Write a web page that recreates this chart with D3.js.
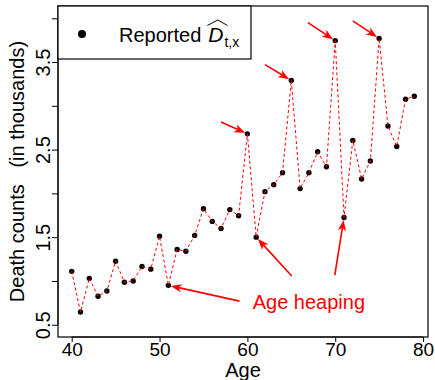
<!DOCTYPE html>
<html>
<head>
<meta charset="utf-8">
<script src="https://cdn.jsdelivr.net/npm/d3@7"></script>
<style>
  body { margin: 0; background: #fff; }
  svg { display: block; font-family: "Liberation Sans", Arial, sans-serif; }
</style>
</head>
<body>
<svg id="chart" width="435" height="380"></svg>
<script>
// reported death counts (thousands) by single year of age
const ages = [40, 41, 42, 43, 44, 45, 46, 47, 48, 49,
              50, 51, 52, 53, 54, 55, 56, 57, 58, 59,
              60, 61, 62, 63, 64, 65, 66, 67, 68, 69,
              70, 71, 72, 73, 74, 75, 76, 77, 78, 79];
const deaths = [1.11, 0.645, 1.03, 0.825, 0.885, 1.225, 0.985, 1.0, 1.165, 1.135,
                1.51, 0.95, 1.36, 1.34, 1.52, 1.825, 1.68, 1.6, 1.815, 1.745,
                2.68, 1.5, 2.02, 2.1, 2.235, 3.29, 2.055, 2.235, 2.475, 2.305,
                3.745, 1.725, 2.605, 2.165, 2.37, 3.77, 2.77, 2.535, 3.075, 3.11];

const xTicks = [40, 50, 60, 70, 80];
const yTicks = [0.5, 1, 1.5, 2, 2.5, 3, 3.5, 4];
const yTickLabels = ['0.5', '', '1.5', '', '2.5', '', '3.5', ''];

// arrows pointing at the heaped peaks (tail given in data units)
const peakAges = [60, 65, 70, 75];
const peakTailAge = [57.0, 62.0, 66.9, 72.0];
const peakTailValue = [2.815, 3.47, 3.95, 3.97];

// arrows from the "Age heaping" note to the dips
const dipAges = [51, 61, 71];
const dipTailAge = [59.1, 65.05, 69.95];
const dipTailValue = [0.77, 1.057, 1.068];
const noteAge = 67.0;
const noteValue = 0.68;

const svg = d3.select('#chart');
const plot = { left: 58, right: 428, top: 6, bottom: 337 };
const red = '#ff0000';
const fs = 20;

const x = d3.scaleLinear().domain([38.44, 80.56]).range([plot.left, plot.right]);
const y = d3.scaleLinear().domain([0.36, 4.14]).range([plot.bottom, plot.top]);

const valueAt = {};
ages.forEach((a, i) => { valueAt[a] = deaths[i]; });

// axes
const xAxis = svg.append('g').attr('transform', `translate(0,${plot.bottom})`)
    .call(d3.axisBottom(x).tickValues(xTicks).tickSize(5).tickPadding(0.5).tickFormat(d3.format('d')));
xAxis.select('.domain').attr('d', `M${x(40)},0H${x(80)}`);
xAxis.selectAll('text').attr('font-size', 19).attr('fill', '#000').attr('font-family', null);
xAxis.selectAll('line').attr('stroke', '#000');

const yAxis = svg.append('g').attr('transform', `translate(${plot.left},0)`)
    .call(d3.axisLeft(y).tickValues(yTicks).tickSize(6).tickFormat((d, i) => yTickLabels[i]));
yAxis.select('.domain').attr('d', `M0,${y(0.5)}V${y(4)}`);
yAxis.selectAll('line').attr('stroke', '#000');
yAxis.selectAll('text')
    .attr('font-size', fs).attr('fill', '#000').attr('font-family', null)
    .attr('x', null).attr('y', null).attr('dy', null)
    .attr('text-anchor', 'middle')
    .attr('transform', 'translate(-8,0) rotate(-90)');

// frame
svg.append('rect')
    .attr('x', plot.left).attr('y', plot.top)
    .attr('width', plot.right - plot.left).attr('height', plot.bottom - plot.top)
    .attr('fill', 'none').attr('stroke', '#000').attr('stroke-width', 1.2);

// axis titles
svg.append('text')
    .attr('x', (plot.left + plot.right) / 2).attr('y', 377)
    .attr('text-anchor', 'middle').attr('font-size', fs)
    .text('Age');
svg.append('text')
    .attr('transform', `translate(24,${(plot.top + plot.bottom) / 2}) rotate(-90)`)
    .attr('text-anchor', 'middle').attr('font-size', fs)
    .style('white-space', 'pre')
    .text('Death counts   (in thousands)');

// points then the dashed connecting line
svg.append('g').selectAll('circle')
    .data(ages)
    .enter()
    .append('circle')
    .attr('cx', d => x(d))
    .attr('cy', d => y(valueAt[d]))
    .attr('r', 2.7)
    .attr('fill', '#000');

svg.append('path')
    .datum(ages)
    .attr('fill', 'none')
    .attr('stroke', red)
    .attr('stroke-width', 1)
    .attr('stroke-dasharray', '3,2.5')
    .attr('d', d3.line().x(d => x(d)).y(d => y(valueAt[d])));

// arrow helper in pixel space
function arrow(x0, y0, x1, y1, gap) {
    const dx = x1 - x0;
    const dy = y1 - y0;
    const len = Math.sqrt(dx * dx + dy * dy);
    const ux = dx / len;
    const uy = dy / len;
    const tx = x1 - ux * gap;
    const ty = y1 - uy * gap;
    const hl = 11;
    const hw = 4.2;
    const bx = tx - ux * hl;
    const by = ty - uy * hl;
    svg.append('line')
        .attr('x1', x0).attr('y1', y0).attr('x2', bx + ux * 3).attr('y2', by + uy * 3)
        .attr('stroke', red).attr('stroke-width', 1.6);
    svg.append('path')
        .attr('d', `M${tx},${ty}L${bx - uy * hw},${by + ux * hw}L${bx + ux * 3},${by + uy * 3}L${bx + uy * hw},${by - ux * hw}Z`)
        .attr('fill', red);
}

peakAges.forEach((a, i) => {
    arrow(x(peakTailAge[i]), y(peakTailValue[i]), x(a), y(valueAt[a]), 2.5);
});
dipAges.forEach((a, i) => {
    arrow(x(dipTailAge[i]), y(dipTailValue[i]), x(a), y(valueAt[a]), 2.5);
});

svg.append('text')
    .attr('x', x(noteAge)).attr('y', y(noteValue))
    .attr('text-anchor', 'middle').attr('font-size', fs)
    .attr('fill', red)
    .text('Age heaping');

// legend
const legend = svg.append('g');
legend.append('rect')
    .attr('x', plot.left).attr('y', plot.top)
    .attr('width', 193).attr('height', 53)
    .attr('fill', '#fff').attr('stroke', '#000').attr('stroke-width', 1.2);
legend.append('circle')
    .attr('cx', 82).attr('cy', 34).attr('r', 4).attr('fill', '#000');
const lab = legend.append('text')
    .attr('x', 119).attr('y', 42).attr('font-size', fs)
    .text('Reported');
const lw = lab.node().getComputedTextLength();
const dx0 = 119 + lw + 7;
const dLab = legend.append('text')
    .attr('x', dx0).attr('y', 42).attr('font-size', fs + 1)
    .attr('font-style', 'italic')
    .text('D');
const dw = dLab.node().getComputedTextLength();
legend.append('text')
    .attr('x', dx0 + dw + 1).attr('y', 47).attr('font-size', 14)
    .text('t,x');
legend.append('path')
    .attr('d', `M${dx0 - 1},25.5L${dx0 + dw / 2 + 2},20L${dx0 + dw + 4},25.5`)
    .attr('fill', 'none').attr('stroke', '#000').attr('stroke-width', 1);
</script>
</body>
</html>
